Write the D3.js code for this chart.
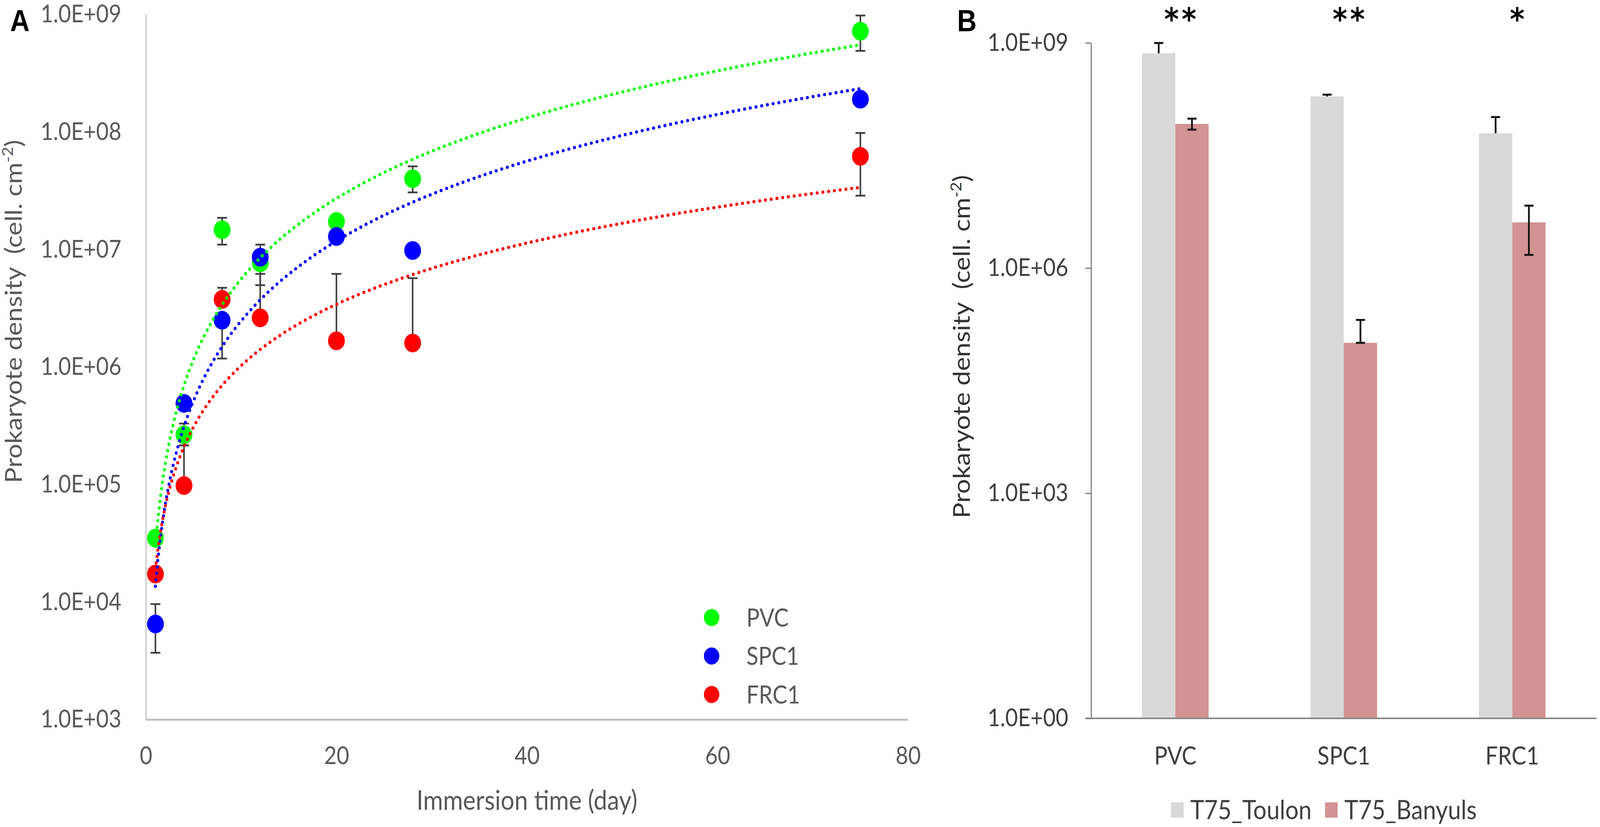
<!DOCTYPE html>
<html>
<head>
<meta charset="utf-8">
<script src="https://cdn.jsdelivr.net/npm/d3@7"></script>
<style>
  html, body { margin: 0; padding: 0; background: #fff; overflow: hidden; }
  svg { display: block; }
  text { font-family: Lato, "Open Sans", sans-serif; }
</style>
</head>
<body>
<div id="chart"></div>
<script>
// ---- Panel A : density vs immersion time ----
var days = [1, 4, 8, 12, 20, 28, 75];
var pvc  = [3.5e4, 2.65e5, 1.47e7, 7.7e6, 1.73e7, 4.0e7, 7.2e8];
var spc1 = [6.5e3, 4.9e5, 2.5e6, 8.6e6, 1.29e7, 9.8e6, 1.9e8];
var frc1 = [1.73e4, 9.8e4, 3.76e6, 2.62e6, 1.67e6, 1.6e6, 6.2e7];

// error bar ends (null = not drawn)
var pvcHigh  = [null, 3.3e5, 1.86e7, null, null, 5.1e7, 9.8e8];
var pvcLow   = [null, 2.15e5, 1.1e7, 4.97e6, null, 3.06e7, 4.9e8];
var spc1High = [9.6e3, null, null, 1.1e7, null, null, null];
var spc1Low  = [3.7e3, null, 1.18e6, null, null, null, null];
var frc1High = [null, 2.15e5, 4.72e6, 6.2e6, 6.2e6, 5.7e6, 9.8e7];
var frc1Low  = [null, null, null, null, null, null, 2.87e7];

var seriesNames = ["PVC", "SPC1", "FRC1"];
var seriesColors = ["#00ff00", "#0000ff", "#ff0000"];
var xTicksA = [0, 20, 40, 60, 80];
var yTicksA = [1e3, 1e4, 1e5, 1e6, 1e7, 1e8, 1e9];

// ---- Panel B : T75 by site ----
var materials = ["PVC", "SPC1", "FRC1"];
var sites = ["T75_Toulon", "T75_Banyuls"];
var siteColors = ["#d9d9d9", "#d39393"];
var toulon      = [7.3e8, 1.94e8, 6.25e7];
var toulonHigh  = [1.0e9, 2.05e8, 1.03e8];
var banyuls     = [8.36e7, 1.01e5, 4.07e6];
var banyulsHigh = [9.8e7, 2.04e5, 6.8e6];
var banyulsLow  = [7.0e7, 1.01e5, 1.5e6];
var signif = ["**", "**", "*"];
var yTicksB = [1, 1e3, 1e6, 1e9];

var svgWidth = 4562;
var svgHeight = 2116;

// the window is narrower than the figure, so stretch the figure to fill it
var svg = d3.select("#chart")
  .append("svg")
  .attr("viewBox", `0 0 ${svgWidth} ${svgHeight}`)
  .attr("preserveAspectRatio", "none")
  .style("width", "100vw")
  .style("height", "100vh");

var expFormat = d => "1.0E+" + String(Math.round(Math.log10(d))).padStart(2, "0");

// =================== Panel A ===================
var xA = d3.scaleLinear().domain([0, 80]).range([416, 2589]);
var yA = d3.scaleLog().domain([1e3, 1e9]).range([1841, 37]);

var gA = svg.append("g");

var yAxisA = gA.append("g")
  .attr("transform", `translate(${xA(0)},0)`)
  .call(d3.axisLeft(yA).tickValues(yTicksA).tickFormat(expFormat).tickSize(0).tickPadding(70));
yAxisA.select(".domain").attr("stroke", "#bfbfbf").attr("stroke-width", 3);
yAxisA.selectAll("text").attr("font-size", "62px").attr("fill", "#595959")
  .style("font-family", "Lato");

var xAxisA = gA.append("g")
  .attr("transform", `translate(0,${yA(1e3)})`)
  .call(d3.axisBottom(xA).tickValues(xTicksA).tickSize(0).tickPadding(70));
xAxisA.select(".domain").attr("stroke", "#c0c0c0").attr("stroke-width", 5);
xAxisA.selectAll("text").attr("font-size", "62px").attr("fill", "#595959")
  .style("font-family", "Lato");

// axis titles
gA.append("text")
  .attr("x", (xA(0) + xA(80)) / 2)
  .attr("y", 2072)
  .attr("text-anchor", "middle")
  .attr("font-size", "69px")
  .attr("fill", "#595959")
  .text("Immersion time (day)");

var yTitleA = gA.append("text")
  .attr("transform", "translate(62,797) rotate(-90)")
  .attr("text-anchor", "middle")
  .attr("font-size", "67px")
  .attr("fill", "#595959")
  .style("white-space", "pre");
yTitleA.append("tspan").text("Prokaryote density  (cell. cm");
yTitleA.append("tspan").attr("baseline-shift", "super").attr("font-size", "42px").text("-2");
yTitleA.append("tspan").text(")");

gA.append("text")
  .attr("x", 29).attr("y", 80)
  .attr("font-size", "77px")
  .attr("font-weight", "bold")
  .style("font-family", "'Liberation Sans', Arial, sans-serif")
  .text("A");

var seriesA = [
  { name: "PVC", values: pvc, high: pvcHigh, low: pvcLow, color: seriesColors[0] },
  { name: "SPC1", values: spc1, high: spc1High, low: spc1Low, color: seriesColors[1] },
  { name: "FRC1", values: frc1, high: frc1High, low: frc1Low, color: seriesColors[2] }
];

// error bars first, markers over them
var errA = gA.append("g").attr("stroke", "#404040").attr("stroke-width", 4.5);
seriesA.forEach(function(s) {
  days.forEach(function(d, i) {
    [s.high[i], s.low[i]].forEach(function(end) {
      if (end == null) return;
      errA.append("line")
        .attr("x1", xA(d)).attr("x2", xA(d))
        .attr("y1", yA(s.values[i])).attr("y2", yA(end));
      errA.append("line")
        .attr("x1", xA(d) - 14).attr("x2", xA(d) + 14)
        .attr("y1", yA(end)).attr("y2", yA(end));
    });
  });
});

seriesA.forEach(function(s) {
  gA.append("g").selectAll("circle")
    .data(days)
    .enter()
    .append("circle")
    .attr("cx", d => xA(d))
    .attr("cy", (d, i) => yA(s.values[i]))
    .attr("r", 24)
    .attr("fill", s.color);
});

// power trendlines (least squares on ln x, ln y), like the spreadsheet does
function powerFit(xs, ys) {
  var lx = xs.map(Math.log), ly = ys.map(Math.log);
  var mx = d3.mean(lx), my = d3.mean(ly);
  var b = d3.sum(lx, (v, i) => (v - mx) * (ly[i] - my)) / d3.sum(lx, v => (v - mx) * (v - mx));
  var a = Math.exp(my - b * mx);
  return x => a * Math.pow(x, b);
}

var trendX = d3.range(days[0], days[days.length - 1] + 0.001, 0.25);
var lineA = d3.line().x(d => xA(d[0])).y(d => yA(d[1])).curve(d3.curveLinear);

seriesA.forEach(function(s) {
  var f = powerFit(days, s.values);
  gA.append("path")
    .datum(trendX.map(x => [x, f(x)]))
    .attr("d", lineA)
    .attr("fill", "none")
    .attr("stroke", s.color)
    .attr("stroke-width", 8.5)
    .attr("stroke-linecap", "round")
    .attr("stroke-dasharray", "0 16.5");
});

// legend A
var legA = gA.append("g");
seriesA.forEach(function(s, i) {
  legA.append("circle")
    .attr("cx", 2029).attr("cy", 1580 + i * 98.5)
    .attr("r", 22).attr("fill", s.color);
  legA.append("text")
    .attr("x", 2128).attr("y", 1580 + i * 98.5)
    .attr("dy", "0.36em")
    .attr("font-size", "63px")
    .attr("fill", "#595959")
    .text(s.name);
});

// =================== Panel B ===================
var xB = d3.scaleBand().domain(materials).range([3111, 4552]);
var xSite = d3.scaleBand().domain(sites).range([0, xB.bandwidth()]).paddingOuter(1.53);
var yB = d3.scaleLog().domain([1, 1e9]).range([1838, 110]);

var gB = svg.append("g");

var yAxisB = gB.append("g")
  .attr("transform", `translate(${xB.range()[0]},0)`)
  .call(d3.axisLeft(yB).tickValues(yTicksB).tickFormat(expFormat).tickSize(16).tickSizeOuter(0).tickPadding(49));
yAxisB.select(".domain").attr("stroke", "#868686").attr("stroke-width", 3.5);
yAxisB.selectAll(".tick line").attr("stroke", "#868686").attr("stroke-width", 3.5);
yAxisB.selectAll("text").attr("font-size", "62px").attr("fill", "#404040")
  .style("font-family", "Lato");

var xAxisB = gB.append("g")
  .attr("transform", `translate(0,${yB(1)})`)
  .call(d3.axisBottom(xB).tickSize(0).tickPadding(73));
xAxisB.select(".domain").attr("stroke", "#868686").attr("stroke-width", 4)
  .attr("d", `M${xB.range()[0] - 16},0H${xB.range()[1]}`);
xAxisB.selectAll("text").attr("font-size", "63px").attr("fill", "#404040")
  .style("font-family", "Lato");

var yTitleB = gB.append("text")
  .attr("transform", "translate(2766,887) rotate(-90)")
  .attr("text-anchor", "middle")
  .attr("font-size", "67px")
  .attr("fill", "#333333")
  .style("white-space", "pre");
yTitleB.append("tspan").text("Prokaryote density  (cell. cm");
yTitleB.append("tspan").attr("baseline-shift", "super").attr("font-size", "42px").text("-2");
yTitleB.append("tspan").text(")");

gB.append("text")
  .attr("x", 2729).attr("y", 80)
  .attr("font-size", "77px")
  .attr("font-weight", "bold")
  .style("font-family", "'Liberation Sans', Arial, sans-serif")
  .text("B");

var barRows = materials.map((m, i) => ({
  material: m,
  bars: [
    { site: sites[0], value: toulon[i], high: toulonHigh[i], low: null },
    { site: sites[1], value: banyuls[i], high: banyulsHigh[i], low: banyulsLow[i] }
  ]
}));

var groups = gB.append("g").selectAll("g")
  .data(barRows)
  .enter()
  .append("g")
  .attr("transform", d => `translate(${xB(d.material)},0)`);

groups.selectAll("rect")
  .data(d => d.bars)
  .enter()
  .append("rect")
  .attr("x", d => xSite(d.site))
  .attr("width", xSite.bandwidth())
  .attr("y", d => yB(d.value))
  .attr("height", d => yB(1) - yB(d.value))
  .attr("fill", (d, i) => siteColors[i]);

xAxisB.raise();

// error bars B
groups.each(function(row) {
  var g = d3.select(this).append("g").attr("stroke", "#111").attr("stroke-width", 5);
  row.bars.forEach(function(b) {
    var cx = xSite(b.site) + xSite.bandwidth() / 2;
    [b.high, b.low].forEach(function(end) {
      if (end == null) return;
      g.append("line").attr("x1", cx).attr("x2", cx).attr("y1", yB(b.value)).attr("y2", yB(end));
      g.append("line").attr("x1", cx - 13).attr("x2", cx + 13).attr("y1", yB(end)).attr("y2", yB(end));
    });
  });
});

// significance stars
gB.append("g").selectAll("text")
  .data(materials)
  .enter()
  .append("text")
  .attr("x", d => xB(d) + xB.bandwidth() / 2 + 18)
  .attr("y", 77)
  .attr("text-anchor", "middle")
  .attr("font-size", "80px")
  .attr("font-weight", "bold")
  .attr("letter-spacing", "8px")
  .style("font-family", "'DejaVu Sans', sans-serif")
  .text((d, i) => signif[i]);

// legend B
var legB = gB.append("g");
var legBx = [3339, 3778];
sites.forEach(function(s, i) {
  legB.append("rect")
    .attr("x", legBx[i]).attr("y", 2053)
    .attr("width", 36).attr("height", 39)
    .attr("fill", siteColors[i]);
  legB.append("text")
    .attr("x", legBx[i] + 55).attr("y", 2072)
    .attr("dy", "0.36em")
    .attr("font-size", "67px")
    .attr("fill", "#404040")
    .text(s);
});
</script>
</body>
</html>
